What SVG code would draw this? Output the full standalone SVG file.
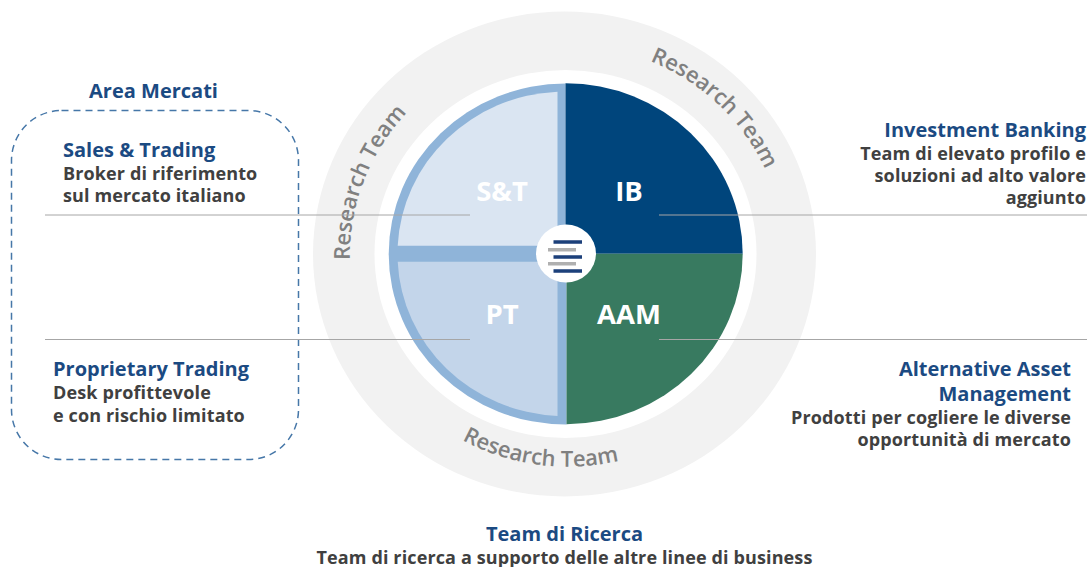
<svg xmlns="http://www.w3.org/2000/svg" width="1090" height="567" viewBox="0 0 1090 567">
<style>
text{font-family:"Open Sans","Noto Sans","Liberation Sans",sans-serif}
.h{font-size:20px;font-weight:700;fill:#1B4A82}
.b{font-size:18px;font-weight:700;fill:#404040;letter-spacing:.13px}
.q{font-size:27.500px;font-weight:700;fill:#fff;text-anchor:middle}
.r{font-size:22px;font-weight:600;fill:#808080}
.e{text-anchor:end}
.m{text-anchor:middle}
.l{stroke:#A6A6A6;stroke-width:1;fill:none}
</style>
<defs>
<path id="a1" d="M350 260A218 211 0 0 1 480 62"/>
<path id="a2" d="M650 61A218 208 0 0 1 768 176"/>
<path id="a3" d="M462 440A218 211 0 0 0 630 458"/>
<filter id="soft" x="-10%" y="-10%" width="120%" height="120%"><feGaussianBlur stdDeviation=".6"/></filter>
</defs>
<rect width="1090" height="567" fill="#fff"/>
<g id="research-ring">
<ellipse cx="564.500" cy="254" rx="251.500" ry="242.500" fill="#F2F2F2"/>
<ellipse cx="565.500" cy="254" rx="191" ry="184" fill="#fff"/>
<text class="r"><textPath href="#a1">Research Team</textPath></text>
<text class="r"><textPath href="#a2">Research Team</textPath></text>
<text class="r"><textPath href="#a3">Research Team</textPath></text>
</g>
<g id="area-mercati">
<rect x="11.500" y="110.500" width="287" height="349" rx="50" ry="50" fill="none" stroke="#4677A8" stroke-width="1.500" stroke-dasharray="7 5"/>
<text class="h m" x="153.500" y="97.500">Area Mercati</text>
</g>
<g id="node-st">
<path d="M565.500 83.500V254H388.700A177 170.500 0 0 1 565.500 83.500Z" fill="#8FB4D9"/>
<path d="M557.500 91.700V245.700H397.700A168 162 0 0 1 557.500 91.700Z" fill="#DAE5F2"/>
<text class="q" x="502" y="201">S&amp;T</text>
<text class="h" x="63" y="157">Sales &amp; Trading</text>
<text class="b" x="63" y="179.500">Broker di riferimento</text>
<text class="b" x="63" y="201.500">sul mercato italiano</text>
</g>
<g id="node-pt">
<path d="M566.500 424.500V254H388.700A177 170.500 0 0 0 566.500 424.500Z" fill="#8FB4D9"/>
<path d="M557.500 261.700V416A168 162 0 0 1 397.700 261.700Z" fill="#C3D5EA"/>
<text class="q" x="502" y="324">PT</text>
<text class="h" x="53" y="376">Proprietary Trading</text>
<text class="b" x="53" y="399">Desk profittevole</text>
<text class="b" x="53" y="421.500">e con rischio limitato</text>
</g>
<g id="node-ib">
<path d="M565.500 83.300A177 170.500 0 0 1 742.700 253.700H565.500Z" fill="#00457C"/>
<text class="q" x="629" y="201">IB</text>
<text class="h e" x="1086" y="137">Investment Banking</text>
<text class="b e" x="1086" y="160">Team di elevato profilo e</text>
<text class="b e" x="1086" y="182">soluzioni ad alto valore</text>
<text class="b e" x="1086" y="204">aggiunto</text>
</g>
<g id="node-aam">
<path d="M566.500 253.700H742.700A177 170.500 0 0 1 566.500 424.200Z" fill="#387A60"/>
<text class="q" x="629" y="324">AAM</text>
<text class="h e" x="1071" y="376">Alternative Asset</text>
<text class="h e" x="1071" y="401">Management</text>
<text class="b e" x="1071" y="424">Prodotti per cogliere le diverse</text>
<text class="b e" x="1071" y="446">opportunità di mercato</text>
</g>
<g id="connectors">
<path class="l" d="M45 215H470M45 339.500H470M659 215H1087M659 339.500H1087"/>
</g>
<g id="hub">
<ellipse cx="566" cy="253.500" rx="30" ry="29" fill="#fff"/>
<g stroke-width="3.500" fill="none" filter="url(#soft)">
<path d="M553.500 242H582M553.500 257H582M553.500 271H582" stroke="#1B3F7A"/>
<path d="M548 249.700H576M548 263.700H576" stroke="#B0B0B0"/>
</g>
</g>
<g id="team-ricerca">
<text class="h m" x="564.500" y="540.500">Team di Ricerca</text>
<text class="b m" x="564.500" y="563.500">Team di ricerca a supporto delle altre linee di business</text>
</g>
</svg>
